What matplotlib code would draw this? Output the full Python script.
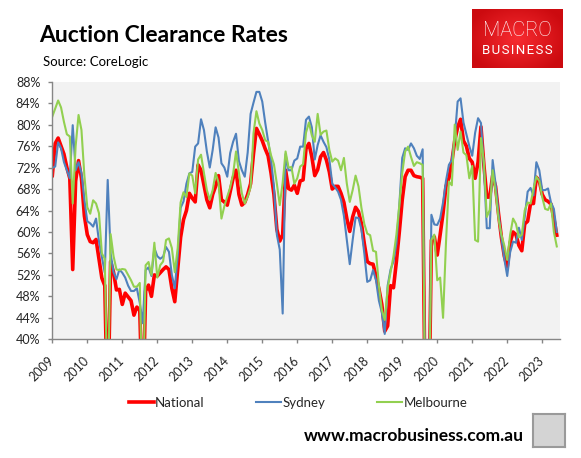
import numpy as np
import matplotlib
matplotlib.use('Agg')
import matplotlib.pyplot as plt
import matplotlib.transforms as mtransforms

# monthly clearance rates (%), Jan 2009 onwards
years = [str(y) for y in range(2009, 2024)]

national = [70.5, 76.5, 77.5, 76.0, 74.5, 72.0, 70.0, 53.0, 69.5, 73.3, 70.0, 63.0,
            59.5, 58.2, 58.0, 58.6, 55.0, 51.4, 50.0, 25.0, 54.5, 52.5, 49.2, 49.3,
            46.5, 48.6, 47.9, 47.2, 44.5, 46.0, 45.4, 25.0, 49.0, 50.1, 48.0, 52.0,
            51.8, 52.4, 53.0, 53.5, 53.0, 49.5, 47.0, 53.0, 59.0, 62.3, 64.0, 67.2,
            66.3, 65.6, 72.5, 71.5, 68.8, 66.0, 64.5, 67.0, 68.5, 70.5, 66.0, 65.6,
            65.0, 67.5, 70.0, 71.5, 67.0, 65.0, 65.5, 67.0, 69.0, 74.6, 79.3, 78.2,
            77.0, 75.5, 74.2, 71.0, 67.0, 60.5, 58.3, 59.5, 71.5, 68.1, 67.8, 68.7,
            67.2, 69.5, 69.7, 75.5, 76.5, 74.0, 70.5, 71.6, 74.0, 74.8, 73.4, 71.2,
            68.0, 68.5, 68.5, 67.2, 65.5, 62.5, 60.1, 62.8, 64.6, 63.8, 61.6, 57.8,
            54.5, 54.1, 54.0, 51.8, 49.4, 46.5, 41.5, 42.5, 50.0, 49.6, 54.5, 60.0,
            66.0, 70.3, 71.5, 71.5, 70.5, 70.3, 70.2, 70.0, 20.0, 20.0, 58.5, 59.1,
            55.7, 59.5, 63.5, 68.5, 70.0, 73.0, 77.0, 79.5, 81.0, 77.0, 76.0, 73.7,
            73.0, 70.0, 73.0, 79.6, 72.5, 66.5, 66.5, 70.5, 68.5, 63.5, 59.0, 55.5,
            53.5, 58.0, 60.0, 59.5, 57.5, 56.5, 61.5, 62.0, 65.3, 65.3, 70.2, 69.5,
            67.0, 66.0, 65.7, 65.2, 62.5, 59.4]

sydney = [71.9, 72.2, 76.7, 75.6, 73.0, 71.5, 70.0, 79.9, 71.5, 73.0, 71.0, 66.0,
          62.0, 61.6, 61.0, 62.5, 58.3, 55.4, 52.4, 69.7, 56.0, 52.5, 51.2, 53.0,
          52.4, 51.5, 50.0, 49.0, 49.0, 49.5, 46.8, 43.0, 52.9, 53.4, 51.8, 57.0,
          55.5, 55.0, 55.4, 57.2, 56.3, 52.0, 49.5, 55.5, 64.5, 65.7, 69.0, 70.9,
          71.2, 75.9, 76.5, 81.0, 79.0, 75.0, 72.0, 75.3, 79.5, 77.6, 72.8, 72.0,
          70.3, 74.7, 76.8, 78.3, 73.2, 71.5, 70.3, 74.8, 82.0, 84.1, 86.1, 86.1,
          84.3, 80.4, 77.0, 73.5, 68.5, 59.5, 56.7, 44.8, 74.5, 71.5, 71.5, 73.3,
          73.7, 75.9, 75.9, 80.9, 81.5, 79.5, 73.5, 76.2, 78.0, 76.8, 75.8, 73.5,
          69.0, 68.3, 67.5, 66.0, 63.0, 58.5, 54.0, 58.5, 62.7, 62.6, 60.5, 56.0,
          50.7, 51.0, 52.9, 51.0, 47.2, 45.0, 41.0, 50.0, 53.0, 54.5, 57.8, 65.0,
          73.8, 75.6, 75.3, 76.5, 75.6, 74.2, 73.6, 75.4, 20.0, 20.0, 63.2, 61.4,
          61.3, 62.5, 65.5, 69.5, 72.5, 73.4, 77.5, 84.3, 84.9, 80.4, 78.2, 76.0,
          74.2, 78.5, 81.2, 80.3, 72.0, 60.7, 60.7, 73.4, 69.0, 63.5, 59.0, 55.0,
          51.8, 56.2, 58.2, 58.0, 60.8, 58.5, 62.8, 67.5, 68.2, 66.8, 73.0, 71.5,
          67.8, 67.8, 68.1, 65.5, 64.3, 60.0]

melbourne = [81.5, 83.0, 84.5, 83.2, 80.5, 78.2, 77.8, 65.3, 76.0, 81.8, 79.0, 70.5,
             64.6, 63.4, 65.9, 65.3, 63.5, 56.0, 55.0, 25.0, 59.6, 55.5, 53.0, 52.9,
             53.1, 53.0, 52.0, 51.0, 49.8, 49.8, 50.5, 25.0, 53.8, 54.4, 52.0, 58.0,
             51.5, 53.8, 54.5, 58.5, 58.8, 57.0, 52.5, 57.0, 65.5, 67.4, 66.5, 70.9,
             70.5, 67.2, 73.5, 74.4, 71.0, 67.8, 66.0, 67.8, 71.0, 69.2, 62.5, 64.8,
             66.6, 68.3, 70.8, 75.0, 71.0, 67.2, 65.3, 66.6, 68.3, 78.4, 82.5, 80.2,
             79.0, 77.1, 76.8, 74.3, 72.6, 69.0, 65.0, 69.2, 75.0, 72.0, 72.1, 69.0,
             70.0, 72.2, 72.6, 78.5, 80.4, 78.0, 76.8, 82.0, 78.1, 78.7, 78.9, 75.3,
             73.1, 73.7, 73.3, 71.5, 73.8, 69.0, 65.6, 67.8, 70.5, 68.5, 64.5, 61.5,
             59.7, 59.4, 56.5, 56.3, 50.0, 45.5, 43.6, 49.5, 52.5, 55.5, 59.5, 65.0,
             71.0, 75.0, 75.9, 74.0, 72.3, 73.0, 72.8, 72.5, 20.0, 20.0, 58.5, 59.5,
             51.0, 51.5, 44.0, 58.0, 69.4, 68.7, 80.0, 75.3, 78.7, 74.8, 74.3, 70.0,
             72.3, 58.5, 58.2, 77.5, 73.0, 62.8, 64.1, 71.5, 67.5, 62.5, 59.5, 57.5,
             54.8, 59.5, 62.5, 61.5, 59.0, 59.5, 64.0, 65.5, 65.3, 68.0, 70.3, 69.5,
             66.5, 64.3, 64.1, 65.3, 60.0, 57.3]

W, H = 581, 458
fig = plt.figure(figsize=(W / 100, H / 100), dpi=100)
fig.patch.set_facecolor('white')

font = 'Lato'
axis_grey = '#868686'
txt = '#262626'

ax = fig.add_axes([52.3 / W, 1 - 339.3 / H, (560 - 52.3) / W, (339.3 - 81.7) / H])
ax.set_facecolor('#f2f2f2')

months = np.arange(len(national))
ax.plot(months, national, color='#ff0000', lw=2.6, label='National', solid_joinstyle='round')
ax.plot(months, sydney, color='#4f81bd', lw=1.5, label='Sydney', solid_joinstyle='round')
ax.plot(months, melbourne, color='#92d050', lw=1.5, label='Melbourne', solid_joinstyle='round')

ax.set_xlim(0, 174.1)
ax.set_ylim(40, 88)

ax.set_yticks(range(40, 89, 4))
ax.set_yticklabels([f'{v}%' for v in range(40, 89, 4)], fontfamily=font, fontsize=9, color=txt)
ax.set_xticks(np.arange(len(years)) * 12)
ax.set_xticklabels(years, rotation=45, ha='right', va='center', rotation_mode='anchor',
                   fontfamily=font, fontsize=9, color=txt)
# nudge the slanted year labels a little to the right, like Excel puts them
shift = mtransforms.ScaledTranslation(4 / 100, 0, fig.dpi_scale_trans)
for lab in ax.get_xticklabels():
    lab.set_transform(lab.get_transform() + shift)

for s in ['top', 'right']:
    ax.spines[s].set_visible(False)
for s in ['left', 'bottom']:
    ax.spines[s].set_color(axis_grey)
    ax.spines[s].set_linewidth(1.0)
ax.tick_params(axis='y', direction='out', length=2.6, width=1, color=axis_grey, pad=6)
ax.tick_params(axis='x', direction='out', length=3, width=1, color=axis_grey, pad=11)

# legend below the plot
leg = fig.legend(loc='center', bbox_to_anchor=(298 / W, 1 - 402.7 / H), ncol=3, frameon=False,
                 handlelength=1.9, handletextpad=0.1, columnspacing=3.9,
                 prop={'family': font, 'size': 9.5})
for t in leg.get_texts():
    t.set_color(txt)

# title block
fig.text(38.9 / W, 1 - 35 / H, 'Auction Clearance Rates', fontfamily=font, fontweight='bold',
         fontsize=16.5, color='black', va='center', ha='left')
fig.text(43.4 / W, 1 - 61.5 / H, 'Source: CoreLogic', fontfamily=font, fontsize=9.5,
         color='black', va='center', ha='left')

# MACRO BUSINESS badge
bx = fig.add_axes([472 / W, 1 - 68 / H, 91 / W, 59 / H])
gx, gy = np.meshgrid(np.linspace(-1, 1, 120), np.linspace(-1, 1, 80))
r = np.clip(np.sqrt(gx ** 2 * 0.8 + gy ** 2 * 0.6), 0, 1)
c0 = np.array([0.97, 0.17, 0.19])
c1 = np.array([0.80, 0.04, 0.06])
img = c0[None, None, :] * (1 - r[..., None]) + c1[None, None, :] * r[..., None]
bx.imshow(img, extent=[0, 1, 0, 1], aspect='auto')
bx.set_xlim(0, 1)
bx.set_ylim(0, 1)
bx.axis('off')
bx.text(0.5, 0.63, 'MACRO', color='white', fontfamily='Roboto', fontweight='light',
        fontsize=14.5, ha='center', va='center')
bx.text(0.5, 0.29, 'B U S I N E S S'.replace(' ', '\u200a'), color='white', fontfamily='Roboto',
        fontsize=9.5, ha='center', va='center')

# footer
fig.text(523.5 / W, 1 - 436 / H, 'www.macrobusiness.com.au', fontfamily=font, fontweight='bold',
         fontsize=12.5, color='black', va='center', ha='right')

wx = fig.add_axes([533 / W, 1 - 447 / H, 32 / W, 33 / H])
wx.set_facecolor('#d4d4d4')
wx.set_xticks([])
wx.set_yticks([])
for s in wx.spines.values():
    s.set_color('#9a9a9a')
    s.set_linewidth(1.5)

fig.savefig('out.png', dpi=100)
